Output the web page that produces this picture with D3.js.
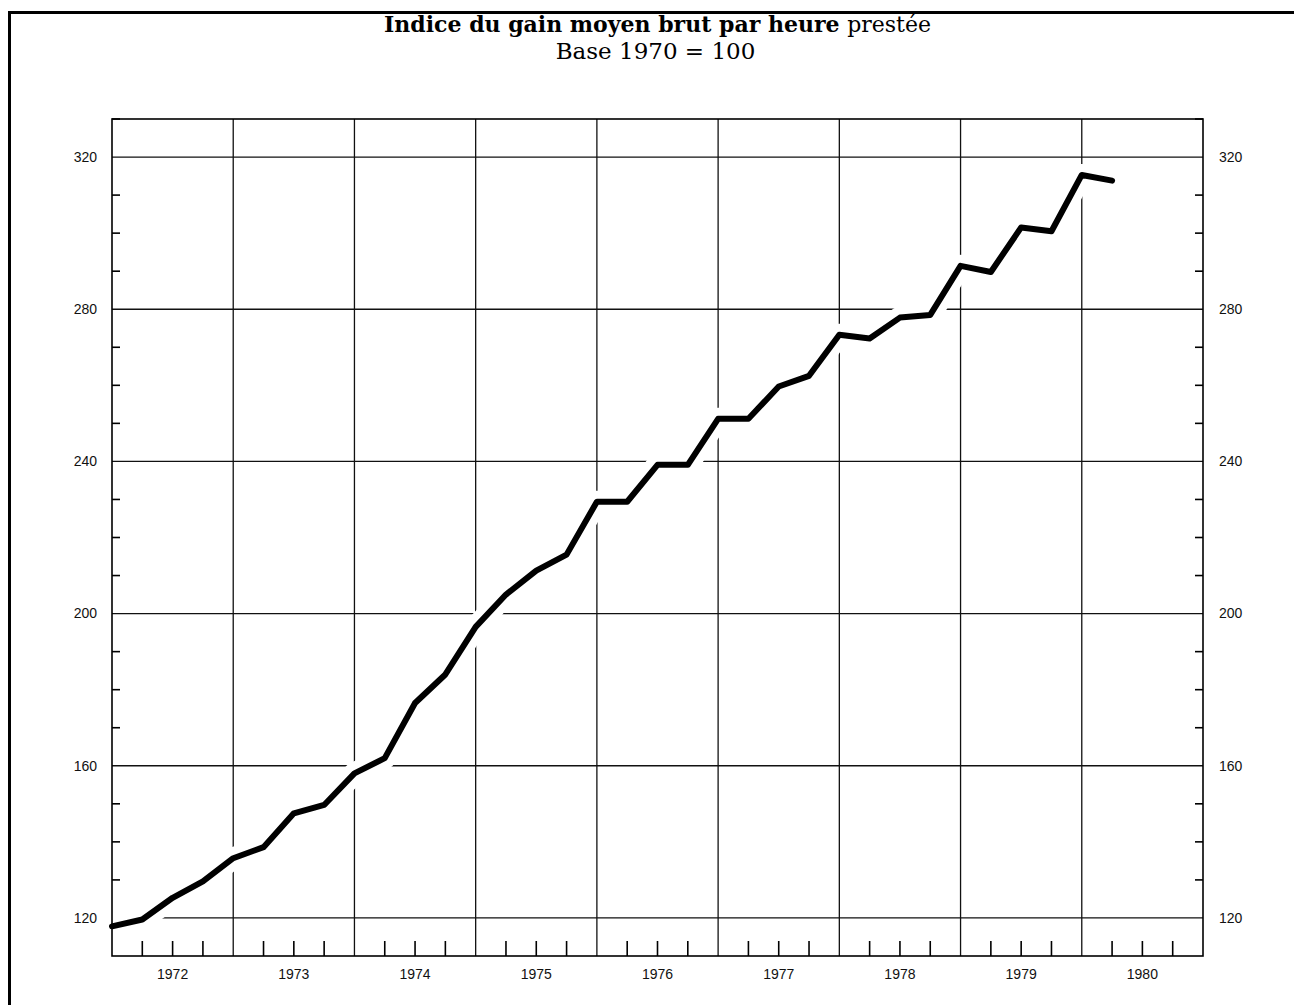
<!DOCTYPE html>
<html lang="fr">
<head>
    <meta charset="UTF-8">
    <title>Indice du gain moyen brut par heure prestée</title>
    <script src="https://d3js.org/d3.v7.min.js"></script>
    <style>
        body { margin: 0; background: #fff; }
        .title { font-family: "DejaVu Serif", serif; font-size: 22px; font-weight: bold; }
        .subtitle { font-family: "DejaVu Serif", serif; font-size: 23px; }
        .tick-label { font-family: "Liberation Sans", Arial, sans-serif; font-size: 14px; fill: #111; }
    </style>
</head>
<body>
    <svg id="chart" width="1294" height="1005"></svg>

    <script>
        // quarterly index values, plotted at end of each quarter
        const quarters = [
            1972.00, 1972.25, 1972.50, 1972.75,
            1973.00, 1973.25, 1973.50, 1973.75,
            1974.00, 1974.25, 1974.50, 1974.75,
            1975.00, 1975.25, 1975.50, 1975.75,
            1976.00, 1976.25, 1976.50, 1976.75,
            1977.00, 1977.25, 1977.50, 1977.75,
            1978.00, 1978.25, 1978.50, 1978.75,
            1979.00, 1979.25, 1979.50, 1979.75,
            1980.00, 1980.25
        ];
        const index = [
            117.8, 119.6, 125.3, 129.6,
            135.7, 138.6, 147.5, 149.7,
            158.0, 162.0, 176.5, 184.0,
            196.5, 205.0, 211.3, 215.5,
            229.4, 229.4, 239.1, 239.1,
            251.2, 251.2, 259.7, 262.5,
            273.3, 272.3, 277.8, 278.5,
            291.4, 289.8, 301.5, 300.5,
            315.3, 313.8
        ];
        const years = [1972, 1973, 1974, 1975, 1976, 1977, 1978, 1979, 1980];
        const yTicks = [120, 160, 200, 240, 280, 320];

        const svg = d3.select("#chart");
        const margin = { top: 119, right: 91, bottom: 49, left: 112 };
        const width = +svg.attr("width"), height = +svg.attr("height");

        const x = d3.scaleLinear().domain([1972, 1981]).range([margin.left, width - margin.right]);
        const y = d3.scaleLinear().domain([110, 330]).range([height - margin.bottom, margin.top]);

        const x0 = x.range()[0], x1 = x.range()[1];
        const y0 = y.range()[0], y1 = y.range()[1];

        // page border (top and left)
        svg.append("path")
            .attr("d", `M9.5,1005 L9.5,12.5 L1294,12.5`)
            .attr("fill", "none").attr("stroke", "#000").attr("stroke-width", 3);

        // titles
        const title = svg.append("text").attr("class", "title")
            .attr("x", (x0 + x1) / 2).attr("y", 32).attr("text-anchor", "middle");
        title.append("tspan").text("Indice du gain moyen brut par heure ");
        title.append("tspan").attr("font-weight", "normal").text("prestée");
        svg.append("text").attr("class", "subtitle")
            .attr("x", (x0 + x1) / 2 - 2).attr("y", 59).attr("text-anchor", "middle")
            .text("Base 1970 = 100");

        // grid
        const grid = svg.append("g").attr("stroke", "#111").attr("stroke-width", 1.3);
        grid.selectAll(".hgrid").data(yTicks).enter().append("line")
            .attr("x1", x0).attr("x2", x1)
            .attr("y1", d => y(d)).attr("y2", d => y(d));
        grid.selectAll(".vgrid").data(years.slice(1)).enter().append("line")
            .attr("x1", d => x(d)).attr("x2", d => x(d))
            .attr("y1", y1).attr("y2", y0);

        const line = d3.line()
            .x((d, i) => x(quarters[i]))
            .y(d => y(d));

        // white halo that breaks the grid around the curve
        svg.append("path").datum(index)
            .attr("d", line)
            .attr("fill", "none").attr("stroke", "#fff")
            .attr("stroke-width", 22).attr("stroke-linejoin", "round").attr("stroke-linecap", "round");

        // frame
        svg.append("rect")
            .attr("x", x0).attr("y", y1).attr("width", x1 - x0).attr("height", y0 - y1)
            .attr("fill", "none").attr("stroke", "#000").attr("stroke-width", 1.6);

        // minor y ticks every 10, inside on both sides
        const minor = d3.range(120, 331, 10).filter(v => v % 40 !== 0);
        const ticks = svg.append("g").attr("stroke", "#000").attr("stroke-width", 1.6);
        ticks.selectAll(".ml").data(minor).enter().append("line")
            .attr("x1", x0).attr("x2", x0 + 8)
            .attr("y1", d => y(d)).attr("y2", d => y(d));
        ticks.selectAll(".mr").data(minor).enter().append("line")
            .attr("x1", x1 - 8).attr("x2", x1)
            .attr("y1", d => y(d)).attr("y2", d => y(d));

        // quarter ticks on the bottom
        const qticks = [];
        years.forEach(yr => [0.25, 0.5, 0.75].forEach(q => qticks.push(yr + q)));
        ticks.selectAll(".qt").data(qticks).enter().append("line")
            .attr("x1", d => x(d)).attr("x2", d => x(d))
            .attr("y1", y0).attr("y2", y0 - 15);

        // y labels left and right
        svg.selectAll(".yl").data(yTicks).enter().append("text")
            .attr("class", "tick-label")
            .attr("x", x0 - 15).attr("y", d => y(d)).attr("dy", "0.35em")
            .attr("text-anchor", "end").text(d => d);
        svg.selectAll(".yr").data(yTicks).enter().append("text")
            .attr("class", "tick-label")
            .attr("x", x1 + 16).attr("y", d => y(d)).attr("dy", "0.35em")
            .attr("text-anchor", "start").text(d => d);

        // year labels centred in each year
        svg.selectAll(".xl").data(years).enter().append("text")
            .attr("class", "tick-label")
            .attr("x", d => x(d + 0.5)).attr("y", y0 + 18).attr("dy", "0.35em")
            .attr("text-anchor", "middle").text(d => d);

        // the curve
        svg.append("path").datum(index)
            .attr("d", line)
            .attr("fill", "none").attr("stroke", "#000")
            .attr("stroke-width", 6).attr("stroke-linejoin", "round").attr("stroke-linecap", "round");
    </script>
</body>
</html>
